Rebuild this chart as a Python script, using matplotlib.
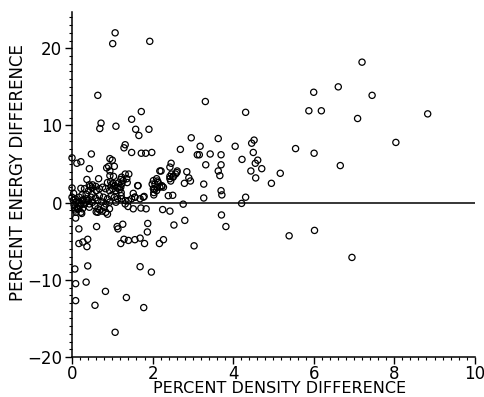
import matplotlib
matplotlib.use("Agg")
import matplotlib.pyplot as plt
from matplotlib.ticker import MultipleLocator

density_diff = [
    # upper left / middle
    1.07, 1.01, 1.93, 0.64, 3.31, 4.31, 0.69, 0.72, 1.09, 1.48, 1.72, 1.58, 1.91, 1.66,
    2.96, 3.63, 3.18, 4.05, 2.69, 1.32, 1.29, 1.48, 1.72, 1.83, 1.98, 3.11, 3.16, 3.43,
    3.70, 4.22, 4.46, 4.52, 0.48, 0.00, 0.12, 0.22, 0.43, 0.94, 1.00, 1.05, 0.86, 0.91,
    0.94, 0.94, 3.32, 3.70, 3.63, 3.67, 2.46, 2.21, 2.61, 2.57, 2.51, 2.43, 2.45, 2.85,
    2.90, 2.94, 2.79, 3.27, 3.70, 3.72, 0.37, 0.43, 0.50, 0.59, 0.66, 0.00, 1.41, 1.21,
    1.15, 1.21, 1.02, 1.63, 1.99, 2.12, 2.05, 2.11, 2.23, 2.03, 2.03, 1.79, 1.56, 1.52,
    3.27, 4.31, 2.39, 2.50, 2.43, 2.60,
    # right side
    7.20, 6.61, 6.00, 7.45, 5.88, 6.19, 7.09, 8.83, 8.04, 5.55, 6.01, 6.66, 5.17, 4.95,
    4.56, 4.44, 4.71, 4.50, 4.61, 4.55,
    5.39, 6.02, 6.95,
    # negatives
    0.09, 0.17, 0.24, 0.61, 0.60, 0.75, 0.88, 0.17, 0.27, 0.39, 0.37, 0.39, 0.07, 0.09,
    0.35, 0.09, 0.57, 0.83, 1.07, 1.35, 1.78, 1.69, 1.97, 1.12, 1.14, 1.26, 1.21, 1.29,
    1.40, 1.56, 1.69, 1.80, 1.87, 1.88, 1.39, 1.52, 1.71, 1.84, 2.25, 2.43, 2.17, 2.27,
    2.53, 2.80, 3.03, 2.76, 3.71, 3.82, 4.21, 0.08, 0.12, 0.57, 0.69, 0.06, 0.16,
    # dense cluster near origin
    0.22, 0.31, 0.45, 0.51, 0.41, 0.35, 0.50, 0.60, 0.68, 0.76, 0.83, 0.93, 1.01, 1.09,
    1.17, 1.22,
    0.00, 0.08, 0.18, 0.26, 0.36, 0.47, 0.58, 0.68, 0.78, 0.88, 0.97, 1.05, 1.13, 1.22,
    0.10, 0.22, 0.33, 0.43, 0.51, 0.64, 0.74, 0.84, 0.93, 1.09,
    0.14, 0.26, 0.43, 0.64, 0.80, 0.93,
    0.10, 0.22, 0.64, 0.84,
    1.32, 1.23, 1.36, 1.27, 1.37, 1.23, 1.64, 1.56, 1.48, 1.40, 1.32, 1.23, 1.77, 1.69,
    2.02, 2.10, 2.06, 2.14, 2.23, 2.18, 2.02, 2.27, 2.10, 2.18, 2.47, 2.51, 2.43, 1.32,
    # extra points in the densest blobs
    0.03, 0.05, 0.15, 0.20, 0.28, 0.30, 0.40, 0.16, 0.04, 0.25,
    0.98, 1.06, 1.12, 1.18, 0.96, 1.03, 0.88,
]

energy_diff = [
    22.0, 20.6, 20.9, 13.9, 13.1, 11.7, 9.6, 10.3, 9.9, 10.8, 11.8, 9.5, 9.5, 8.7,
    8.4, 8.3, 7.3, 7.3, 6.9, 7.5, 7.1, 6.5, 6.4, 6.4, 6.5, 6.2, 6.2, 6.3,
    6.2, 5.6, 7.7, 8.1, 6.3, 5.8, 5.1, 5.3, 4.4, 5.7, 5.5, 4.7, 4.5, 4.7,
    4.1, 3.5, 4.9, 4.9, 4.1, 3.5, 5.1, 4.1, 4.1, 3.7, 3.4, 3.4, 2.8, 4.0,
    3.2, 2.8, 2.5, 2.4, 1.55, 1.0, 3.0, 2.3, 1.9, 2.1, 3.1, 1.9, 3.7, 3.0,
    2.55, 2.0, 2.5, 2.2, 2.4, 2.8, 1.7, 2.0, 2.1, 1.3, 1.0, 0.8, 0.7, 1.2,
    0.6, 0.7, 0.9, 0.95, 4.6, 3.9,
    18.2, 15.0, 14.3, 13.9, 11.9, 11.9, 10.9, 11.5, 7.8, 7.0, 6.4, 4.8, 3.8, 2.5,
    3.2, 4.1, 4.4, 6.5, 5.5, 5.1,
    -4.3, -3.6, -7.1,
    -2.0, -3.4, -1.4, -3.1, -1.2, -1.1, -1.5, -5.3, -5.1, -4.75, -5.7, -8.2, -8.6, -10.5,
    -10.3, -12.7, -13.3, -11.5, -16.8, -12.3, -13.6, -8.3, -9.0, -3.1, -3.4, -2.8, -5.3, -4.75,
    -4.9, -4.8, -4.6, -5.3, -3.8, -2.7, -0.5, -0.8, -0.7, -0.8, -0.9, -1.1, -5.3, -4.8,
    -2.9, -2.3, -5.6, -0.2, -1.6, -3.1, -0.1, -0.95, -0.7, -0.4, -0.95, -0.7, -0.8,
    1.85, 1.8, 2.1, 2.3, 1.55, 1.1, 1.1, 1.55, 1.8, 2.0, 1.8, 1.55, 1.8, 1.55,
    2.0, 1.3,
    0.7, 0.5, 0.7, 0.26, 0.5, 0.7, 0.6, 0.9, 0.7, 0.5, 0.9, 0.7, 0.5, 0.9,
    0.05, -0.17, 0.05, -0.17, 0.05, 0.26, 0.1, -0.17, 0.05, 0.05,
    -0.8, -0.8, -0.6, -0.8, -0.6, -0.8,
    -1.25, -1.25, -1.25, -1.25,
    3.7, 3.3, 3.1, 2.85, 2.6, 2.4, 2.2, 0.7, 0.5, 0.26, 0.26, 0.5, 0.7, 0.5,
    2.85, 3.1, 2.4, 2.6, 2.2, 2.0, 1.8, 2.0, 1.55, 4.1, 3.7, 3.3, 3.1, -0.17,
    0.3, -0.3, 0.2, -0.4, 0.4, -0.2, 0.3, 0.0, 1.2, 1.0,
    2.3, 2.2, 1.9, 1.7, 2.7, 3.4, 2.6,
]

x_ticks = [0, 2, 4, 6, 8, 10]
y_ticks = [-20, -10, 0, 10, 20]
x_label = "PERCENT DENSITY DIFFERENCE"
y_label = "PERCENT ENERGY DIFFERENCE"

fig = plt.figure(figsize=(4.85, 3.97), dpi=100)
ax = fig.add_axes([0.1485, 0.1008, 0.8305, 0.869])

ax.scatter(density_diff, energy_diff, s=20, facecolors="none",
           edgecolors="black", linewidths=0.9, zorder=3, clip_on=False)
ax.plot([0, 10], [0, 0], color="black", linewidth=1.1, zorder=2)

ax.set_xlim(0, 10)
ax.set_ylim(-20, 24.7)
ax.set_xticks(x_ticks)
ax.set_yticks(y_ticks)
ax.set_xticklabels([str(t) for t in x_ticks])
ax.set_yticklabels([str(t).replace("-", "\u2212") for t in y_ticks])
ax.xaxis.set_minor_locator(MultipleLocator(0.2))
ax.yaxis.set_minor_locator(MultipleLocator(1))

for s in ["top", "right"]:
    ax.spines[s].set_visible(False)
for s in ["left", "bottom"]:
    ax.spines[s].set_linewidth(1.1)

ax.tick_params(axis="both", which="major", direction="out", length=5, width=1.0,
               labelsize=12)
ax.tick_params(axis="y", which="major", pad=2)
ax.tick_params(axis="x", which="major", pad=0.5)
ax.tick_params(axis="both", which="minor", direction="out", length=2.5, width=0.8)

ax.set_xlabel(x_label, fontsize=11.5, labelpad=0)
ax.xaxis.label.set_va("baseline")
ax.set_ylabel(y_label, fontsize=12, labelpad=0)
ax.xaxis.set_label_coords(0.515, -0.1055)
ax.yaxis.set_label_coords(-0.112, 0.535)

fig.savefig("out.png", dpi=100)
